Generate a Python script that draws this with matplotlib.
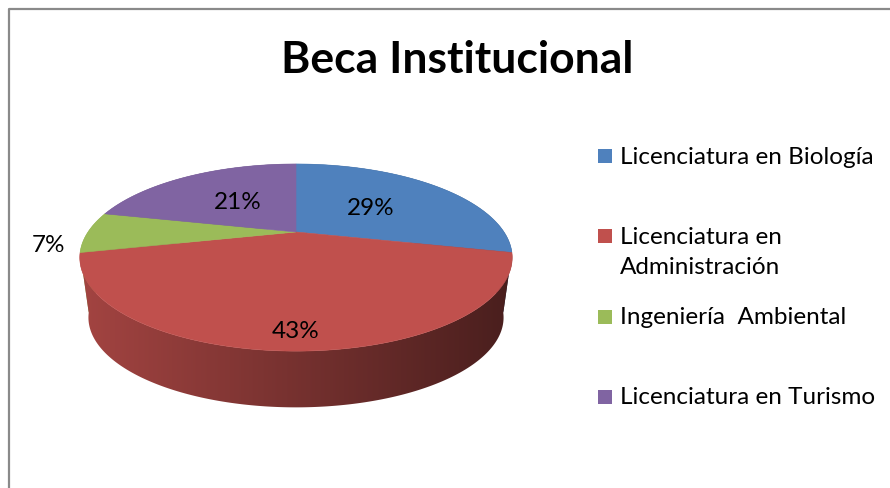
import numpy as np
import matplotlib.pyplot as plt
import matplotlib.colors as mcolors
from matplotlib.patches import Polygon, Rectangle

# Datos del gráfico
categorias = ['Licenciatura en Biología', 'Licenciatura en\nAdministración',
              'Ingeniería  Ambiental', 'Licenciatura en Turismo']
valores = [4, 6, 1, 3]
colores = ['#4F81BD', '#C0504D', '#9BBB59', '#8064A2']
titulo = 'Beca Institucional'

# Geometría del pastel 3D (en píxeles)
cx, cy = 296, 233
A, B, k = 208, 86.6, 0.273
s_base, prof = 0.96, 61

# Posición de etiquetas: radio relativo y fracción de profundidad
radio_etq = [0.5, 0.87, 1.2, 0.5]
prof_etq = [0.0, 0.0, 0.2, 0.0]

FUENTE = ['Lato', 'DejaVu Sans']


def proyectar(theta, r=1.0, base=False):
    u = r * np.sin(theta)
    v = r * np.cos(theta)
    w = 1 + k * v
    if base:
        return cx + s_base * A * u / w, cy + prof - s_base * B * v / w
    return cx + A * u / w, cy - B * v / w


def main():
    fig = plt.figure(figsize=(8.9, 4.89), dpi=100)
    ax = fig.add_axes([0, 0, 1, 1])
    ax.set_xlim(0, 890)
    ax.set_ylim(489, 0)
    ax.axis('off')

    # Marco del gráfico
    ax.plot([8.5, 8.5, 890], [489, 9.5, 9.5], color='#8a8a8a', lw=1.6,
            solid_capstyle='butt')

    total = sum(valores)
    fracs = np.array(valores) / total
    bordes = np.concatenate([[0], np.cumsum(fracs)]) * 2 * np.pi

    # Caras laterales con degradado horizontal, de atrás hacia adelante
    orden = sorted(range(len(valores)),
                   key=lambda i: -np.cos((bordes[i] + bordes[i + 1]) / 2))
    xg = np.linspace(60, 530, 400)
    f = 0.85 - 0.47 * np.clip((xg - 80) / (512 - 80), 0, 1)
    for i in orden:
        th = np.linspace(bordes[i], bordes[i + 1], 300)
        xs, ys = proyectar(th)
        bx, by = proyectar(th, base=True)
        pts = list(zip(xs, ys)) + list(zip(bx[::-1], by[::-1]))
        base_rgb = np.array(mcolors.to_rgb(colores[i]))
        grad = (f[:, None] * base_rgb[None, :])[None, :, :]
        lado = Polygon(pts, closed=True, facecolor='none', edgecolor='none')
        ax.add_patch(lado)
        img = ax.imshow(grad, extent=(60, 530, 420, 150), aspect='auto',
                        interpolation='bilinear', zorder=1)
        img.set_clip_path(lado)

    # Cara superior
    for i in range(len(valores)):
        th = np.linspace(bordes[i], bordes[i + 1], 200)
        xs, ys = proyectar(th)
        pts = [(cx, cy)] + list(zip(xs, ys))
        ax.add_patch(Polygon(pts, closed=True, facecolor=colores[i],
                             edgecolor=colores[i], lw=0.4, zorder=2))

    ax.set_xlim(0, 890)
    ax.set_ylim(489, 0)

    # Etiquetas de porcentaje
    for i in range(len(valores)):
        mid = (bordes[i] + bordes[i + 1]) / 2
        xt, yt = proyectar(mid, r=radio_etq[i])
        xb, yb = proyectar(mid, r=radio_etq[i], base=True)
        t = prof_etq[i]
        ax.text(xt * (1 - t) + xb * t, yt * (1 - t) + yb * t,
                f'{fracs[i] * 100:.0f}%', ha='center', va='center',
                fontsize=17.5, family=FUENTE, color='black', zorder=3)

    # Título
    ax.text(457, 60, titulo, ha='center', va='center', fontsize=32,
            fontweight='bold', family=FUENTE)

    # Leyenda
    filas = [157, 237, 318, 398]
    for i, nombre in enumerate(categorias):
        ax.add_patch(Rectangle((598, filas[i] - 7), 14, 14,
                               facecolor=colores[i], edgecolor='none'))
        for j, linea in enumerate(nombre.split('\n')):
            ax.text(620, filas[i] + 31 * j, linea, ha='left', va='center',
                    fontsize=17.5, family=FUENTE)

    fig.savefig('out.png', dpi=100)


if __name__ == '__main__':
    main()
